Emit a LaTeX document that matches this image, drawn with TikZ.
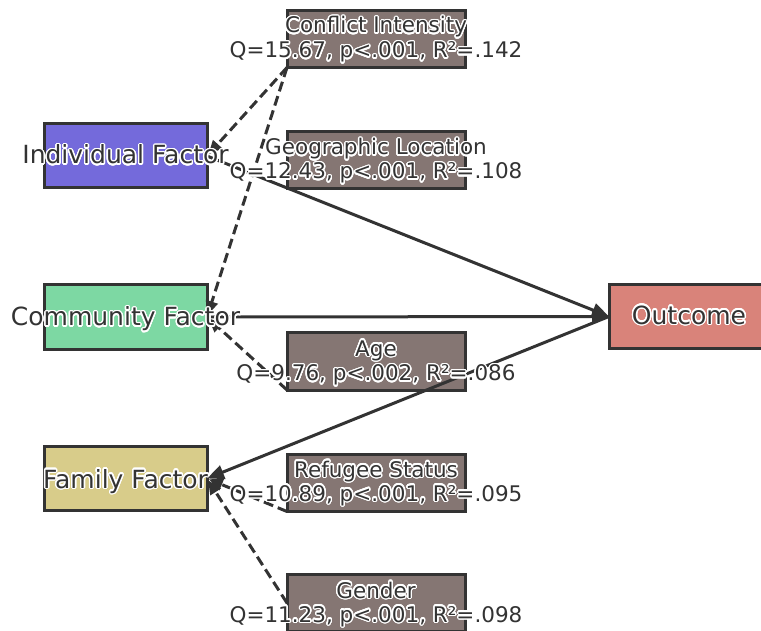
\documentclass[tikz,border=0pt]{standalone}
\usepackage{fontspec}
\setmainfont{DejaVu Sans}
\usepackage{contour}
\contourlength{1.4pt}
\contournumber{24}
\usetikzlibrary{arrows.meta}
\definecolor{cdark}{HTML}{333333}
\definecolor{cind}{RGB}{116,106,219}
\definecolor{ccom}{RGB}{125,216,163}
\definecolor{cfam}{RGB}{216,204,138}
\definecolor{cout}{RGB}{217,131,122}
\definecolor{cmod}{RGB}{133,118,115}
\tikzset{
  factorbox/.style={draw=cdark, line width=3pt, minimum width=163pt, minimum height=64pt, inner sep=0pt, outer sep=0pt},
  modbox/.style={draw=cdark, line width=3pt, fill=cmod, minimum width=178pt, minimum height=57pt, inner sep=0pt, outer sep=0pt},
  bigtext/.style={text=cdark, inner sep=0pt, anchor=base, font=\fontsize{25pt}{30pt}\selectfont},
  smalltext/.style={text=cdark, inner sep=0pt, anchor=base, font=\fontsize{21.5pt}{26pt}\selectfont},
  solidedge/.style={draw=cdark, line width=3pt, -{Triangle[length=17pt,width=14pt]}},
  dashedge/.style={draw=cdark, line width=3pt, dash pattern=on 10pt off 5pt, -{Triangle[length=14pt,width=12pt]}, shorten >=2pt},
}
\begin{document}
\begin{tikzpicture}[x=1pt,y=-1pt]
\useasboundingbox (0,0) rectangle (761,631);
\clip (0,0) rectangle (761,631);
% factor boxes
\node[factorbox, fill=cind] (ind) at (125.5,156) {};
\node[factorbox, fill=ccom] (com) at (125.5,317) {};
\node[factorbox, fill=cfam] (fam) at (125.5,478.5) {};
\node[factorbox, fill=cout] (out) at (690.5,316.5) {};
% moderator boxes
\node[modbox] (ci) at (376,39) {};
\node[modbox] (geo) at (376,160) {};
\node[modbox] (age) at (376,361.5) {};
\node[modbox] (ref) at (376,483) {};
\node[modbox] (gen) at (376,603) {};
% edges
\draw[solidedge] (ind.east) -- (out.west);
\draw[solidedge] (com.east) -- (out.west);
\draw[solidedge] (out.west) -- (fam.east);
\draw[dashedge] (ci.south west) -- (ind.east);
\draw[dashedge] (ci.south west) -- (com.east);
\draw[dashedge] (age.south west) -- (com.east);
\draw[dashedge] (ref.south west) -- (fam.east);
\draw[dashedge] (gen.west) -- (fam.east);
% labels
\node[bigtext] (indt) at (125.5,164) {\contour{white}{Individual Factor}};
\node[bigtext] (comt) at (125.5,326) {\contour{white}{Community Factor}};
\node[bigtext] (famt) at (125.5,488) {\contour{white}{Family Factor}};
\node[bigtext] (outt) at (689,324) {\contour{white}{Outcome}};
\node[smalltext] (cit) at (376,33) {\contour{white}{Conflict Intensity}};
\node[smalltext] (ciq) at (376,58) {\contour{white}{Q=15.67, p<.001, R²=.142}};
\node[smalltext] (geot) at (376,155) {\contour{white}{Geographic Location}};
\node[smalltext] (geoq) at (376,179) {\contour{white}{Q=12.43, p<.001, R²=.108}};
\node[smalltext] (aget) at (376,356) {\contour{white}{Age}};
\node[smalltext] (ageq) at (376,381) {\contour{white}{Q=9.76, p<.002, R²=.086}};
\node[smalltext] (reft) at (376,477) {\contour{white}{Refugee Status}};
\node[smalltext] (refq) at (376,501) {\contour{white}{Q=10.89, p<.001, R²=.095}};
\node[smalltext] (gent) at (376,598) {\contour{white}{Gender}};
\node[smalltext] (genq) at (376,622) {\contour{white}{Q=11.23, p<.001, R²=.098}};
\end{tikzpicture}
\end{document}
